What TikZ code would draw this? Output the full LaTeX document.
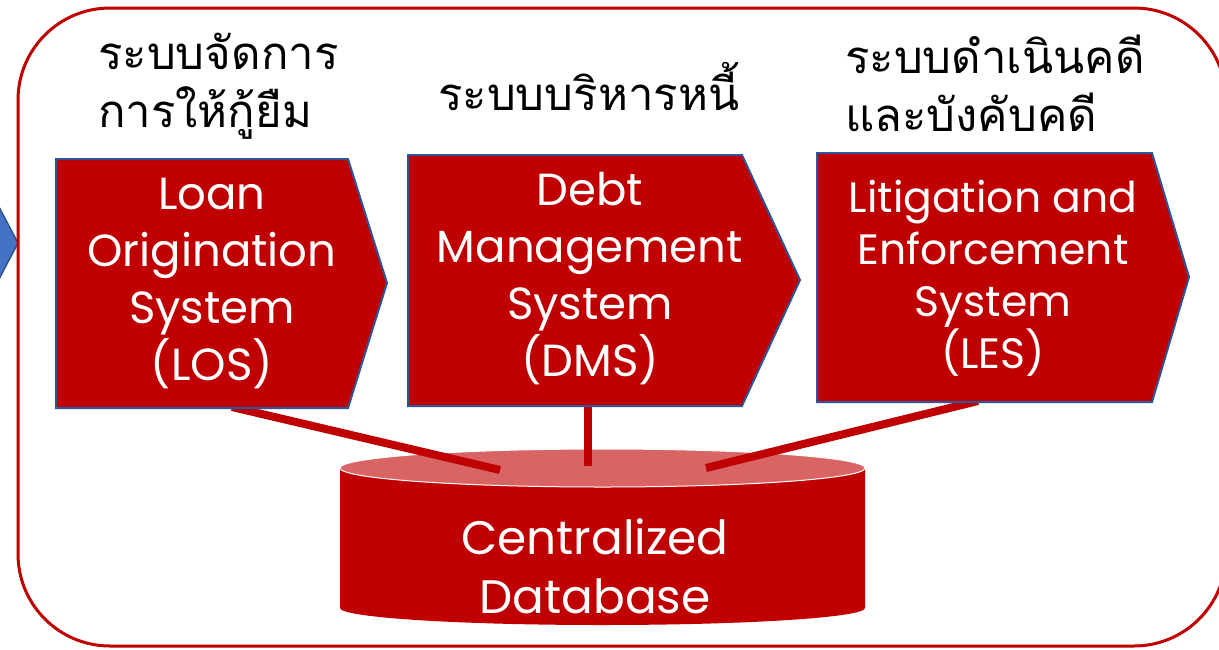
\documentclass[tikz,border=0pt]{standalone}
\usepackage{fontspec}
\setmainfont{Poppins}
\newfontfamily\thaifont[Script=Thai]{Loma}
\usetikzlibrary{calc}
\definecolor{dred}{HTML}{C00000}
\definecolor{lred}{HTML}{D96464}
\definecolor{bblue}{HTML}{4472C4}
\definecolor{bline}{HTML}{2F5597}
\definecolor{bdark}{HTML}{2F528F}
\pgfdeclarelayer{bg}
\pgfsetlayers{bg,main}
\begin{document}
\begin{tikzpicture}[x=1pt,y=-1pt,
  chev/.style={fill=dred, draw=bline, line width=2pt, line join=miter},
  lab/.style={text=white, align=center, font=\fontsize{45}{57}\selectfont, inner sep=0pt},
  labs/.style={text=white, align=center, font=\fontsize{42.5}{52}\selectfont, inner sep=0pt},
  thai/.style={text=black, align=left, font=\thaifont\fontsize{45.5}{58}\selectfont, inner sep=0pt},
  link/.style={draw=dred, line width=8pt},
  frame/.style={draw=dred, line width=3pt, rounded corners=92pt}]
\useasboundingbox (0,0) rectangle (1219,649);

% coordinates
\coordinate (f1) at (18,8);
\coordinate (f2) at (1226,646);
\coordinate (los-foot) at (232,407);
\coordinate (dms-foot) at (588,405);
\coordinate (les-foot) at (978,401);
\coordinate (db-c) at (602.5,468);
\coordinate (db-in1) at (500,470);
\coordinate (db-in2) at (588,466);
\coordinate (db-in3) at (706,468);

% text nodes
\node[lab] (los) at (212,283) {Loan\\Origination\\System\\(LOS)};
\node[lab] (dms) at (590,279) {Debt\\Management\\System\\(DMS)};
\node[labs] (les) at (993,278) {Litigation and\\Enforcement\\System\\(LES)};
\node[lab, font=\fontsize{47}{59}\selectfont] (db) at (595,566) {Centralized\\Database};
\node[thai, anchor=north west] (t1) at (98,33) {ระบบจัดการ\\การให้กู้ยืม};
\node[thai, anchor=north west] (t2) at (438,62) {ระบบบริหารหนี้};
\node[thai, anchor=north west] (t3) at (845,35) {ระบบดำเนินคดี\\และบังคับคดี};

\begin{pgfonlayer}{bg}
  % blue arrow from the left
  \filldraw[fill=bblue, draw=bdark, line width=1.5pt] (-30,152) -- (18,243) -- (-30,334) -- cycle;
  % frame
  \draw[frame] (f1) rectangle (f2);
  % cylinder
  \fill[dred] (340,468) -- (340,608) arc[start angle=180, end angle=0, x radius=262.5, y radius=17]
     -- (865,468) arc[start angle=0, end angle=180, x radius=262.5, y radius=19] -- cycle;
  \filldraw[fill=lred, draw=white, line width=1pt] (db-c) ellipse[x radius=262.5, y radius=19];
  % connectors
  \draw[link] (los-foot) -- (db-in1);
  \draw[link] (dms-foot) -- (db-in2);
  \draw[link] (les-foot) -- (db-in3);
  % chevrons
  \draw[chev] (56,159) -- (348,159) -- (387,283) -- (348,408) -- (56,408) -- cycle;
  \draw[chev] (408,155) -- (742,155) -- (800,280) -- (742,406) -- (408,406) -- cycle;
  \draw[chev] (817,153) -- (1152,153) -- (1189,277) -- (1152,402) -- (817,402) -- cycle;
\end{pgfonlayer}
\end{tikzpicture}
\end{document}
